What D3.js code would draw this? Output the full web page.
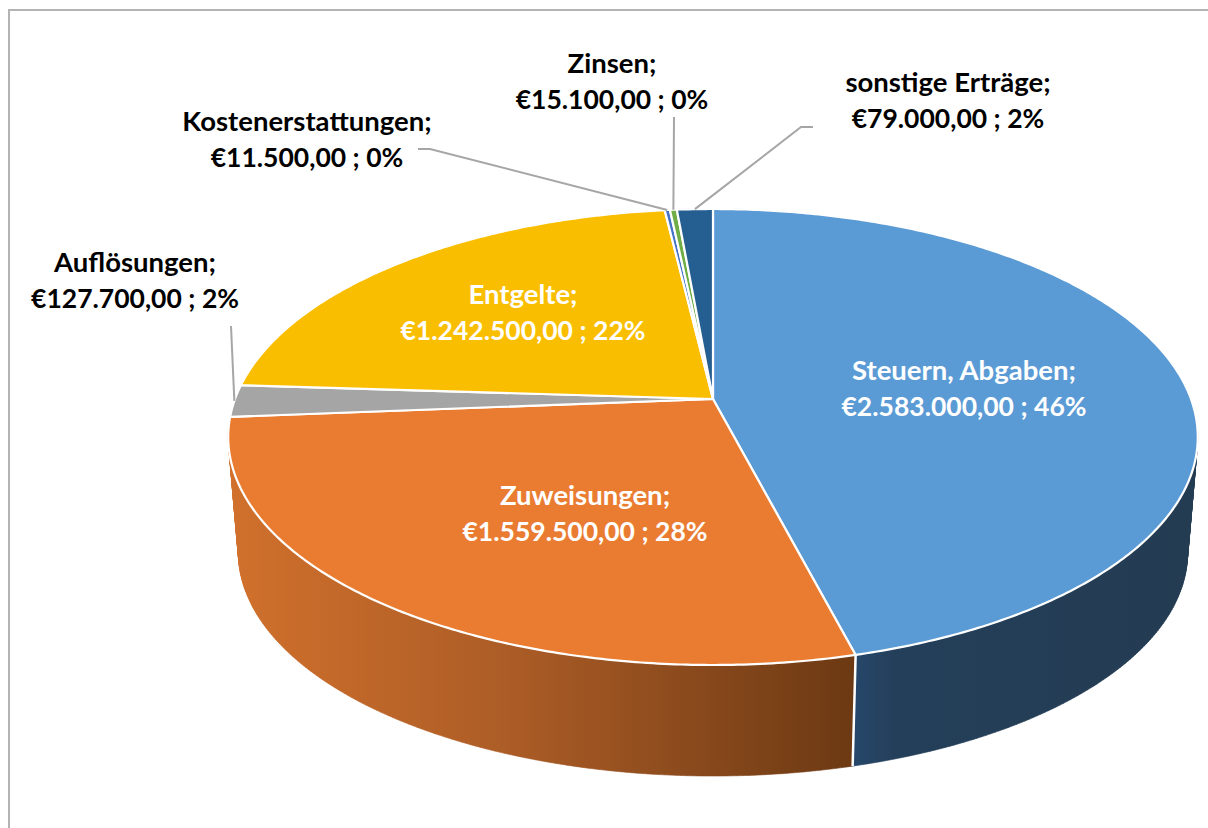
<!DOCTYPE html>
<html>
<head>
<meta charset="utf-8">
<script src="https://cdnjs.cloudflare.com/ajax/libs/d3/7.8.5/d3.min.js"></script>
<style>
  html, body { margin: 0; padding: 0; background: #fff; overflow: hidden; }
  text { font-family: Lato, "Open Sans", sans-serif; font-weight: 700; }
</style>
</head>
<body>
<div id="chart"></div>
<script>
// ---- DATA --------------------------------------------------------
var categories = ["Steuern, Abgaben", "Zuweisungen", "Auflösungen", "Entgelte", "Kostenerstattungen", "Zinsen", "sonstige Erträge"];
var values = [2583000, 1559500, 127700, 1242500, 11500, 15100, 79000];
var percentLabels = ["46%", "28%", "2%", "22%", "0%", "0%", "2%"];
var colors = ["#5b9bd5", "#ea7c31", "#a5a5a5", "#fabe00", "#4472c4", "#70ad47", "#255e91"];

// label centre and first baseline, leader bend points
var labelPos = [[964, 380], [585, 505], [135, 272], [523, 304], [307, 131], [612, 73], [948, 92]];
var labelColor = ["#fff", "#fff", "#000", "#fff", "#000", "#000", "#000"];
var leaders = [null, null, [[231, 326]], null, [[418, 149], [430, 149]], [[674, 117]], [[813, 127], [801, 127]]];

var w = 1208;
var h = 828;

// ---- PIE GEOMETRY ------------------------------------------------
// circle seen in perspective: front of the disc is bigger than the back
var apexX = 713;
var apexY = 399;
var persp = 1 / 6;
var radiusX = 478;
var radiusY = 221.67;
var sideScale = 0.979;
var sideY = 515.6;

function topRim(a) {
  var u = Math.sin(a), v = -Math.cos(a);
  return [apexX + radiusX * u / (1 - persp * v), apexY + radiusY * v / (1 - persp * v)];
}

function bottomRim(a) {
  var u = Math.sin(a), v = -Math.cos(a);
  return [apexX + sideScale * radiusX * u / (1 - persp * v), sideY + sideScale * radiusY * v / (1 - persp * v)];
}

function arcAngles(d) {
  var n = Math.max(2, Math.ceil((d.endAngle - d.startAngle) / 0.01));
  return d3.range(n + 1).map(function(i) {
    return d.startAngle + (d.endAngle - d.startAngle) * i / n;
  });
}

var pie = d3.pie().sort(null).value(function(d) { return d; });
var slices = pie(values);
var line = d3.line();

var euro = d3.formatLocale({
  decimal: ",", thousands: ".", grouping: [3], currency: ["€", ""]
}).format("$,.2f");

// ---- BUILD -------------------------------------------------------
var svg = d3.select("#chart")
  .append("svg")
  .attr("width", w)
  .attr("height", h)
  .style("display", "block");

// chart frame, open to the right and at the bottom
svg.append("path")
  .attr("d", line([[9, h], [9, 10], [w, 10]]))
  .attr("fill", "none")
  .attr("stroke", "#b3b3b3")
  .attr("stroke-width", 2);

var defs = svg.append("defs");

var orangeGrad = defs.append("linearGradient")
  .attr("id", "sideOrange")
  .attr("gradientUnits", "userSpaceOnUse")
  .attr("x1", 235).attr("y1", 0).attr("x2", 855).attr("y2", 0);
orangeGrad.append("stop").attr("offset", "0%").attr("stop-color", "#d0702c");
orangeGrad.append("stop").attr("offset", "45%").attr("stop-color", "#ab5c26");
orangeGrad.append("stop").attr("offset", "100%").attr("stop-color", "#6c3913");

var blueGrad = defs.append("linearGradient")
  .attr("id", "sideBlue")
  .attr("gradientUnits", "userSpaceOnUse")
  .attr("x1", 855).attr("y1", 0).attr("x2", 1190).attr("y2", 0);
blueGrad.append("stop").attr("offset", "0%").attr("stop-color", "#26476a");
blueGrad.append("stop").attr("offset", "12%").attr("stop-color", "#243f5a");
blueGrad.append("stop").attr("offset", "100%").attr("stop-color", "#243c52");

function sideFill(d) {
  if (d.index === 0) return "url(#sideBlue)";
  if (d.index === 1) return "url(#sideOrange)";
  return d3.color(colors[d.index]).darker(1.2);
}

// side walls first, back slices before front ones
var sideOrder = slices.slice().sort(function(a, b) {
  return Math.cos(b.startAngle / 2 + b.endAngle / 2) - Math.cos(a.startAngle / 2 + a.endAngle / 2);
});

// built from small quads so the fold at the silhouette does not cancel out
svg.selectAll("path.side")
  .data(sideOrder)
  .enter()
  .append("path")
  .attr("class", "side")
  .attr("d", function(d) {
    var angles = arcAngles(d);
    return d3.range(angles.length - 1).map(function(i) {
      var a = angles[i], b = angles[i + 1];
      return line(d3.polygonHull([topRim(a), topRim(b), bottomRim(b), bottomRim(a)])) + "Z";
    }).join("");
  })
  .attr("fill", sideFill)
  .attr("stroke", sideFill)
  .attr("stroke-width", 0.6);

// white edge between the two visible walls
svg.selectAll("path.sideEdge")
  .data(slices.filter(function(d) { return Math.cos(d.endAngle) < -0.5; }))
  .enter()
  .append("path")
  .attr("class", "sideEdge")
  .attr("d", function(d) { return line([topRim(d.endAngle), bottomRim(d.endAngle)]); })
  .attr("stroke", "#fff")
  .attr("stroke-width", 2.5);

// top face
svg.selectAll("path.slice")
  .data(slices)
  .enter()
  .append("path")
  .attr("class", "slice")
  .attr("d", function(d) {
    return line([[apexX, apexY]].concat(arcAngles(d).map(topRim))) + "Z";
  })
  .attr("fill", function(d) { return colors[d.index]; })
  .attr("stroke", "#fff")
  .attr("stroke-width", 2.2)
  .attr("stroke-linejoin", "round");

// leader lines run from the label to the middle of the slice edge
svg.selectAll("path.leader")
  .data(slices.filter(function(d) { return leaders[d.index]; }))
  .enter()
  .append("path")
  .attr("class", "leader")
  .attr("d", function(d) {
    var mid = (d.startAngle + d.endAngle) / 2;
    return line(leaders[d.index].concat([topRim(mid)]));
  })
  .attr("fill", "none")
  .attr("stroke", "#a6a6a6")
  .attr("stroke-width", 2);

// labels
var labels = svg.selectAll("g.label")
  .data(slices)
  .enter()
  .append("g")
  .attr("class", "label")
  .attr("text-anchor", "middle")
  .attr("fill", function(d) { return labelColor[d.index]; })
  .attr("transform", function(d) {
    return "translate(" + labelPos[d.index][0] + "," + labelPos[d.index][1] + ")";
  });

labels.append("text")
  .attr("font-size", "27.5px")
  .text(function(d) { return categories[d.index] + ";"; });

labels.append("text")
  .attr("y", 36)
  .attr("font-size", "26.5px")
  .text(function(d) { return euro(d.value) + " ; " + percentLabels[d.index]; });
</script>
</body>
</html>
